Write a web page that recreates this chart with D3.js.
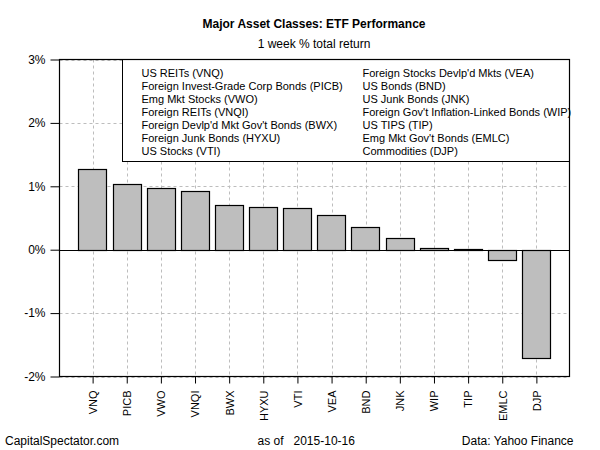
<!DOCTYPE html>
<html><head><meta charset="utf-8">
<script src="https://cdn.jsdelivr.net/npm/d3@7"></script>
<style>body{margin:0;background:#fff}svg{display:block;font-family:"Liberation Sans",Arial,sans-serif}</style>
</head><body><svg id="c" width="600" height="450"></svg>
<script>
const tickers = ["VNQ","PICB","VWO","VNQI","BWX","HYXU","VTI","VEA","BND","JNK","WIP","TIP","EMLC","DJP"];
const returns = [1.28,1.04,0.98,0.93,0.71,0.68,0.66,0.55,0.36,0.19,0.03,0.015,-0.16,-1.70];
const legendLeft = ["US REITs (VNQ)","Foreign Invest-Grade Corp Bonds (PICB)","Emg Mkt Stocks (VWO)","Foreign REITs (VNQI)","Foreign Devlp'd Mkt Gov't Bonds (BWX)","Foreign Junk Bonds (HYXU)","US Stocks (VTI)"];
const legendRight = ["Foreign Stocks Devlp'd Mkts (VEA)","US Bonds (BND)","US Junk Bonds (JNK)","Foreign Gov't Inflation-Linked Bonds (WIP)","US TIPS (TIP)","Emg Mkt Gov't Bonds (EMLC)","Commodities (DJP)"];
const yTicks = [-2,-1,0,1,2,3];
const title = "Major Asset Classes: ETF Performance";
const subtitle = "1 week % total return";
const footLeft = "CapitalSpectator.com", footMid = "as of   2015-10-16", footRight = "Data: Yahoo Finance";

const svg = d3.select("#c");
const L=59.5, R=569.5, T=59.5, B=376.5;
const y = d3.scaleLinear().domain([-2,3]).range([B,T]);
// R barplot style positions: width 1, space 0.2, xlim extended 4%
const n = tickers.length;
const xu = d3.scaleLinear().domain([-0.464, 17.464]).range([L,R]);
const centers = tickers.map((d,i)=>0.2+i*1.2+0.5);
const bw = xu(1)-xu(0);

const grid = "#bdbdbd";
// vertical grid
svg.append("g").selectAll("line").data(centers).join("line")
  .attr("x1",d=>Math.round(xu(d))+0.5).attr("x2",d=>Math.round(xu(d))+0.5)
  .attr("y1",T).attr("y2",B).attr("stroke",grid).attr("stroke-dasharray","3,3");
// horizontal grid
svg.append("g").selectAll("line").data(yTicks.filter(v=>v!==0)).join("line")
  .attr("x1",L).attr("x2",R).attr("y1",d=>Math.round(y(d))+0.5).attr("y2",d=>Math.round(y(d))+0.5)
  .attr("stroke",grid).attr("stroke-dasharray","3,3");

// legend box
const lgTop=59.5, lgBot=161.5, lgLeft=122.5;
svg.append("rect").attr("x",lgLeft).attr("y",lgTop).attr("width",R-lgLeft).attr("height",lgBot-lgTop)
  .attr("fill","#fff").attr("stroke","#000");
const lg = svg.append("g").attr("font-size",11).attr("fill","#000");
legendLeft.forEach((t,i)=>lg.append("text").attr("x",141.5).attr("y",77+i*13.05).text(t));
legendRight.forEach((t,i)=>lg.append("text").attr("x",362.5).attr("y",77+i*13.05).text(t));

// bars
svg.append("g").selectAll("rect").data(returns).join("rect")
  .attr("x",(d,i)=>Math.round(xu(centers[i]-0.5))+0.5)
  .attr("width",Math.round(bw))
  .attr("y",d=>Math.round(y(Math.max(0,d)))+0.5)
  .attr("height",d=>Math.max(1,Math.round(Math.abs(y(d)-y(0)))))
  .attr("fill","#bebebe").attr("stroke","#000").attr("stroke-width",1.2);

// zero line
svg.append("line").attr("x1",L).attr("x2",R).attr("y1",Math.round(y(0))+0.5).attr("y2",Math.round(y(0))+0.5)
  .attr("stroke","#000").attr("stroke-width",1.2);

// plot box
svg.append("rect").attr("x",L).attr("y",T).attr("width",R-L).attr("height",B-T)
  .attr("fill","none").attr("stroke","#000").attr("stroke-width",1.2);

// y axis
const ya = svg.append("g").attr("transform",`translate(${L},0)`)
  .call(d3.axisLeft(y).tickValues(yTicks).tickSize(9).tickPadding(5).tickFormat(d=>d+"%"));
ya.select(".domain").remove();
ya.selectAll("line").attr("stroke","#000");
ya.selectAll("text").attr("font-size",12).attr("font-family","Liberation Sans, Arial").attr("fill","#000");

// x axis
const xs = d3.scalePoint().domain(tickers).range([xu(centers[0]),xu(centers[n-1])]);
const xa = svg.append("g").attr("transform",`translate(0,${B})`)
  .call(d3.axisBottom(xs).tickSize(7).tickPadding(0));
xa.select(".domain").remove();
xa.selectAll("line").attr("stroke","#000");
xa.selectAll("text").attr("font-size",11).attr("font-family","Liberation Sans, Arial").attr("fill","#000")
  .attr("transform","rotate(-90)").attr("text-anchor","end").attr("dy","0.35em").attr("x",-14).attr("y",0);

// titles
svg.append("text").attr("x",314).attr("y",28.3).attr("text-anchor","middle").attr("font-size",12)
  .attr("font-weight","bold").text(title);
svg.append("text").attr("x",314).attr("y",48.3).attr("text-anchor","middle").attr("font-size",12).text(subtitle);

// footer
const ft = svg.append("g").attr("font-size",12).attr("fill","#000");
ft.append("text").attr("x",5).attr("y",445).text(footLeft);
ft.append("text").attr("x",257.5).attr("y",445).attr("xml:space","preserve").style("white-space","pre").text(footMid);
ft.append("text").attr("x",573.5).attr("y",445).attr("text-anchor","end").text(footRight);
</script></body></html>
